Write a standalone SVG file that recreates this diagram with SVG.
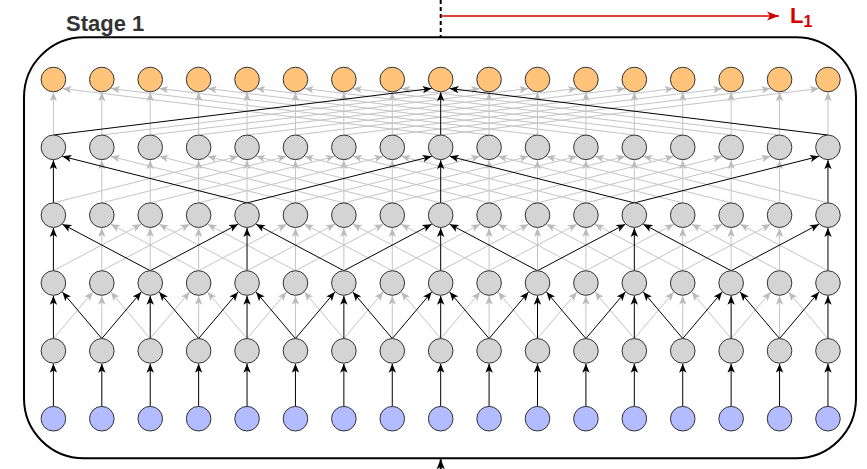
<svg xmlns="http://www.w3.org/2000/svg" width="867" height="469" viewBox="0 0 867 469">
<defs>
<style>
.g line{stroke:#c4c4c4;stroke-width:1;fill:none;marker-end:url(#ag)}
.k line{stroke:#000;stroke-width:1;fill:none;marker-end:url(#ak)}
.o circle{fill:#FFC47A;stroke:#333;stroke-width:1}
.m circle{fill:#D4D4D4;stroke:#333;stroke-width:1}
.b circle{fill:#B3BCFF;stroke:#333;stroke-width:1}
.lbl{font-family:"Liberation Sans",Arial,sans-serif;font-weight:bold}
</style>
<marker id="ak" markerUnits="userSpaceOnUse" markerWidth="9" markerHeight="8" viewBox="0 0 9 8" refX="9" refY="4" orient="auto"><path d="M0,0.3 L9,4 L0,7.7 L2.2,4 Z" fill="#000"/></marker>
<marker id="ag" markerUnits="userSpaceOnUse" markerWidth="9" markerHeight="8" viewBox="0 0 9 8" refX="9" refY="4" orient="auto"><path d="M0,0.3 L9,4 L0,7.7 L2.2,4 Z" fill="#bbbbbb"/></marker>
<marker id="ar" markerUnits="userSpaceOnUse" markerWidth="12" markerHeight="10" viewBox="0 0 12 10" refX="12" refY="5" orient="auto"><path d="M0,0.6 L12,5 L0,9.4 L3,5 Z" fill="#D40000"/></marker>
<marker id="ab" markerUnits="userSpaceOnUse" markerWidth="10" markerHeight="10" viewBox="0 0 10 10" refX="10" refY="5" orient="auto"><path d="M0,0.8 L10,5 L0,9.2 L2.5,5 Z" fill="#000"/></marker>
</defs>
<rect x="0" y="0" width="867" height="469" fill="#fff"/>

<g id="stage-box">
<rect x="24" y="37.3" width="832" height="421" rx="60" ry="60" fill="none" stroke="#000" stroke-width="2"/>
<text class="lbl" x="66" y="31" font-size="22" fill="#333">Stage 1</text>
</g>

<g id="connectors">
<g id="gray-edges" class="g">
<!-- row 0 targets, dilation 8 -->
<g transform="translate(53.4,79.5)"><line x1="0" y1="55.54" x2="0" y2="12.8"/><line x1="387.28" y1="55.54" x2="9" y2="9"/></g>
<g transform="translate(101.81,79.5)"><line x1="0" y1="55.54" x2="0" y2="12.8"/><line x1="387.28" y1="55.54" x2="9" y2="9"/></g>
<g transform="translate(150.22,79.5)"><line x1="0" y1="55.54" x2="0" y2="12.8"/><line x1="387.28" y1="55.54" x2="9" y2="9"/></g>
<g transform="translate(198.63,79.5)"><line x1="0" y1="55.54" x2="0" y2="12.8"/><line x1="387.28" y1="55.54" x2="9" y2="9"/></g>
<g transform="translate(247.04,79.5)"><line x1="0" y1="55.54" x2="0" y2="12.8"/><line x1="387.28" y1="55.54" x2="9" y2="9"/></g>
<g transform="translate(295.45,79.5)"><line x1="0" y1="55.54" x2="0" y2="12.8"/><line x1="387.28" y1="55.54" x2="9" y2="9"/></g>
<g transform="translate(343.86,79.5)"><line x1="0" y1="55.54" x2="0" y2="12.8"/><line x1="387.28" y1="55.54" x2="9" y2="9"/></g>
<g transform="translate(392.27,79.5)"><line x1="0" y1="55.54" x2="0" y2="12.8"/><line x1="387.28" y1="55.54" x2="9" y2="9"/></g>
<g transform="translate(489.09,79.5)"><line x1="-387.28" y1="55.54" x2="-9" y2="9"/><line x1="0" y1="55.54" x2="0" y2="12.8"/></g>
<g transform="translate(537.5,79.5)"><line x1="-387.28" y1="55.54" x2="-9" y2="9"/><line x1="0" y1="55.54" x2="0" y2="12.8"/></g>
<g transform="translate(585.91,79.5)"><line x1="-387.28" y1="55.54" x2="-9" y2="9"/><line x1="0" y1="55.54" x2="0" y2="12.8"/></g>
<g transform="translate(634.32,79.5)"><line x1="-387.28" y1="55.54" x2="-9" y2="9"/><line x1="0" y1="55.54" x2="0" y2="12.8"/></g>
<g transform="translate(682.73,79.5)"><line x1="-387.28" y1="55.54" x2="-9" y2="9"/><line x1="0" y1="55.54" x2="0" y2="12.8"/></g>
<g transform="translate(731.14,79.5)"><line x1="-387.28" y1="55.54" x2="-9" y2="9"/><line x1="0" y1="55.54" x2="0" y2="12.8"/></g>
<g transform="translate(779.55,79.5)"><line x1="-387.28" y1="55.54" x2="-9" y2="9"/><line x1="0" y1="55.54" x2="0" y2="12.8"/></g>
<g transform="translate(827.96,79.5)"><line x1="-387.28" y1="55.54" x2="-9" y2="9"/><line x1="0" y1="55.54" x2="0" y2="12.8"/></g>
<!-- row 1 targets, dilation 4 -->
<g transform="translate(101.81,147.34)"><line x1="0" y1="55.54" x2="0" y2="12.8"/><line x1="193.64" y1="55.54" x2="9" y2="9"/></g>
<g transform="translate(150.22,147.34)"><line x1="0" y1="55.54" x2="0" y2="12.8"/><line x1="193.64" y1="55.54" x2="9" y2="9"/></g>
<g transform="translate(198.63,147.34)"><line x1="0" y1="55.54" x2="0" y2="12.8"/><line x1="193.64" y1="55.54" x2="9" y2="9"/></g>
<g transform="translate(247.04,147.34)"><line x1="-193.64" y1="55.54" x2="-9" y2="9"/><line x1="0" y1="55.54" x2="0" y2="12.8"/><line x1="193.64" y1="55.54" x2="9" y2="9"/></g>
<g transform="translate(295.45,147.34)"><line x1="-193.64" y1="55.54" x2="-9" y2="9"/><line x1="0" y1="55.54" x2="0" y2="12.8"/><line x1="193.64" y1="55.54" x2="9" y2="9"/></g>
<g transform="translate(343.86,147.34)"><line x1="-193.64" y1="55.54" x2="-9" y2="9"/><line x1="0" y1="55.54" x2="0" y2="12.8"/><line x1="193.64" y1="55.54" x2="9" y2="9"/></g>
<g transform="translate(392.27,147.34)"><line x1="-193.64" y1="55.54" x2="-9" y2="9"/><line x1="0" y1="55.54" x2="0" y2="12.8"/><line x1="193.64" y1="55.54" x2="9" y2="9"/></g>
<g transform="translate(489.09,147.34)"><line x1="-193.64" y1="55.54" x2="-9" y2="9"/><line x1="0" y1="55.54" x2="0" y2="12.8"/><line x1="193.64" y1="55.54" x2="9" y2="9"/></g>
<g transform="translate(537.5,147.34)"><line x1="-193.64" y1="55.54" x2="-9" y2="9"/><line x1="0" y1="55.54" x2="0" y2="12.8"/><line x1="193.64" y1="55.54" x2="9" y2="9"/></g>
<g transform="translate(585.91,147.34)"><line x1="-193.64" y1="55.54" x2="-9" y2="9"/><line x1="0" y1="55.54" x2="0" y2="12.8"/><line x1="193.64" y1="55.54" x2="9" y2="9"/></g>
<g transform="translate(634.32,147.34)"><line x1="-193.64" y1="55.54" x2="-9" y2="9"/><line x1="0" y1="55.54" x2="0" y2="12.8"/><line x1="193.64" y1="55.54" x2="9" y2="9"/></g>
<g transform="translate(682.73,147.34)"><line x1="-193.64" y1="55.54" x2="-9" y2="9"/><line x1="0" y1="55.54" x2="0" y2="12.8"/></g>
<g transform="translate(731.14,147.34)"><line x1="-193.64" y1="55.54" x2="-9" y2="9"/><line x1="0" y1="55.54" x2="0" y2="12.8"/></g>
<g transform="translate(779.55,147.34)"><line x1="-193.64" y1="55.54" x2="-9" y2="9"/><line x1="0" y1="55.54" x2="0" y2="12.8"/></g>
<!-- row 2 targets, dilation 2 -->
<g transform="translate(101.81,215.18)"><line x1="0" y1="55.54" x2="0" y2="12.8"/><line x1="96.82" y1="55.54" x2="9" y2="9"/></g>
<g transform="translate(150.22,215.18)"><line x1="-96.82" y1="55.54" x2="-9" y2="9"/><line x1="0" y1="55.54" x2="0" y2="12.8"/><line x1="96.82" y1="55.54" x2="9" y2="9"/></g>
<g transform="translate(198.63,215.18)"><line x1="-96.82" y1="55.54" x2="-9" y2="9"/><line x1="0" y1="55.54" x2="0" y2="12.8"/><line x1="96.82" y1="55.54" x2="9" y2="9"/></g>
<g transform="translate(295.45,215.18)"><line x1="-96.82" y1="55.54" x2="-9" y2="9"/><line x1="0" y1="55.54" x2="0" y2="12.8"/><line x1="96.82" y1="55.54" x2="9" y2="9"/></g>
<g transform="translate(343.86,215.18)"><line x1="-96.82" y1="55.54" x2="-9" y2="9"/><line x1="0" y1="55.54" x2="0" y2="12.8"/><line x1="96.82" y1="55.54" x2="9" y2="9"/></g>
<g transform="translate(392.27,215.18)"><line x1="-96.82" y1="55.54" x2="-9" y2="9"/><line x1="0" y1="55.54" x2="0" y2="12.8"/><line x1="96.82" y1="55.54" x2="9" y2="9"/></g>
<g transform="translate(489.09,215.18)"><line x1="-96.82" y1="55.54" x2="-9" y2="9"/><line x1="0" y1="55.54" x2="0" y2="12.8"/><line x1="96.82" y1="55.54" x2="9" y2="9"/></g>
<g transform="translate(537.5,215.18)"><line x1="-96.82" y1="55.54" x2="-9" y2="9"/><line x1="0" y1="55.54" x2="0" y2="12.8"/><line x1="96.82" y1="55.54" x2="9" y2="9"/></g>
<g transform="translate(585.91,215.18)"><line x1="-96.82" y1="55.54" x2="-9" y2="9"/><line x1="0" y1="55.54" x2="0" y2="12.8"/><line x1="96.82" y1="55.54" x2="9" y2="9"/></g>
<g transform="translate(682.73,215.18)"><line x1="-96.82" y1="55.54" x2="-9" y2="9"/><line x1="0" y1="55.54" x2="0" y2="12.8"/><line x1="96.82" y1="55.54" x2="9" y2="9"/></g>
<g transform="translate(731.14,215.18)"><line x1="-96.82" y1="55.54" x2="-9" y2="9"/><line x1="0" y1="55.54" x2="0" y2="12.8"/><line x1="96.82" y1="55.54" x2="9" y2="9"/></g>
<g transform="translate(779.55,215.18)"><line x1="-96.82" y1="55.54" x2="-9" y2="9"/><line x1="0" y1="55.54" x2="0" y2="12.8"/></g>
<!-- row 3 targets, dilation 1 -->
<g transform="translate(101.81,283.02)"><line x1="-48.41" y1="55.54" x2="-9" y2="9"/><line x1="0" y1="55.54" x2="0" y2="12.8"/><line x1="48.41" y1="55.54" x2="9" y2="9"/></g>
<g transform="translate(198.63,283.02)"><line x1="-48.41" y1="55.54" x2="-9" y2="9"/><line x1="0" y1="55.54" x2="0" y2="12.8"/><line x1="48.41" y1="55.54" x2="9" y2="9"/></g>
<g transform="translate(295.45,283.02)"><line x1="-48.41" y1="55.54" x2="-9" y2="9"/><line x1="0" y1="55.54" x2="0" y2="12.8"/><line x1="48.41" y1="55.54" x2="9" y2="9"/></g>
<g transform="translate(392.27,283.02)"><line x1="-48.41" y1="55.54" x2="-9" y2="9"/><line x1="0" y1="55.54" x2="0" y2="12.8"/><line x1="48.41" y1="55.54" x2="9" y2="9"/></g>
<g transform="translate(489.09,283.02)"><line x1="-48.41" y1="55.54" x2="-9" y2="9"/><line x1="0" y1="55.54" x2="0" y2="12.8"/><line x1="48.41" y1="55.54" x2="9" y2="9"/></g>
<g transform="translate(585.91,283.02)"><line x1="-48.41" y1="55.54" x2="-9" y2="9"/><line x1="0" y1="55.54" x2="0" y2="12.8"/><line x1="48.41" y1="55.54" x2="9" y2="9"/></g>
<g transform="translate(682.73,283.02)"><line x1="-48.41" y1="55.54" x2="-9" y2="9"/><line x1="0" y1="55.54" x2="0" y2="12.8"/><line x1="48.41" y1="55.54" x2="9" y2="9"/></g>
<g transform="translate(779.55,283.02)"><line x1="-48.41" y1="55.54" x2="-9" y2="9"/><line x1="0" y1="55.54" x2="0" y2="12.8"/><line x1="48.41" y1="55.54" x2="9" y2="9"/></g>
</g>

<g id="black-edges" class="k">
<!-- row 0 -->
<g transform="translate(440.68,79.5)"><line x1="-387.28" y1="55.54" x2="-9" y2="9"/><line x1="0" y1="55.54" x2="0" y2="12.8"/><line x1="387.28" y1="55.54" x2="9" y2="9"/></g>
<!-- row 1 -->
<g transform="translate(53.4,147.34)"><line x1="0" y1="55.54" x2="0" y2="12.8"/><line x1="193.64" y1="55.54" x2="9" y2="9"/></g>
<g transform="translate(440.68,147.34)"><line x1="-193.64" y1="55.54" x2="-9" y2="9"/><line x1="0" y1="55.54" x2="0" y2="12.8"/><line x1="193.64" y1="55.54" x2="9" y2="9"/></g>
<g transform="translate(827.96,147.34)"><line x1="-193.64" y1="55.54" x2="-9" y2="9"/><line x1="0" y1="55.54" x2="0" y2="12.8"/></g>
<!-- row 2 -->
<g transform="translate(53.4,215.18)"><line x1="0" y1="55.54" x2="0" y2="12.8"/><line x1="96.82" y1="55.54" x2="9" y2="9"/></g>
<g transform="translate(247.04,215.18)"><line x1="-96.82" y1="55.54" x2="-9" y2="9"/><line x1="0" y1="55.54" x2="0" y2="12.8"/><line x1="96.82" y1="55.54" x2="9" y2="9"/></g>
<g transform="translate(440.68,215.18)"><line x1="-96.82" y1="55.54" x2="-9" y2="9"/><line x1="0" y1="55.54" x2="0" y2="12.8"/><line x1="96.82" y1="55.54" x2="9" y2="9"/></g>
<g transform="translate(634.32,215.18)"><line x1="-96.82" y1="55.54" x2="-9" y2="9"/><line x1="0" y1="55.54" x2="0" y2="12.8"/><line x1="96.82" y1="55.54" x2="9" y2="9"/></g>
<g transform="translate(827.96,215.18)"><line x1="-96.82" y1="55.54" x2="-9" y2="9"/><line x1="0" y1="55.54" x2="0" y2="12.8"/></g>
<!-- row 3 -->
<g transform="translate(53.4,283.02)"><line x1="0" y1="55.54" x2="0" y2="12.8"/><line x1="48.41" y1="55.54" x2="9" y2="9"/></g>
<g transform="translate(150.22,283.02)"><line x1="-48.41" y1="55.54" x2="-9" y2="9"/><line x1="0" y1="55.54" x2="0" y2="12.8"/><line x1="48.41" y1="55.54" x2="9" y2="9"/></g>
<g transform="translate(247.04,283.02)"><line x1="-48.41" y1="55.54" x2="-9" y2="9"/><line x1="0" y1="55.54" x2="0" y2="12.8"/><line x1="48.41" y1="55.54" x2="9" y2="9"/></g>
<g transform="translate(343.86,283.02)"><line x1="-48.41" y1="55.54" x2="-9" y2="9"/><line x1="0" y1="55.54" x2="0" y2="12.8"/><line x1="48.41" y1="55.54" x2="9" y2="9"/></g>
<g transform="translate(440.68,283.02)"><line x1="-48.41" y1="55.54" x2="-9" y2="9"/><line x1="0" y1="55.54" x2="0" y2="12.8"/><line x1="48.41" y1="55.54" x2="9" y2="9"/></g>
<g transform="translate(537.5,283.02)"><line x1="-48.41" y1="55.54" x2="-9" y2="9"/><line x1="0" y1="55.54" x2="0" y2="12.8"/><line x1="48.41" y1="55.54" x2="9" y2="9"/></g>
<g transform="translate(634.32,283.02)"><line x1="-48.41" y1="55.54" x2="-9" y2="9"/><line x1="0" y1="55.54" x2="0" y2="12.8"/><line x1="48.41" y1="55.54" x2="9" y2="9"/></g>
<g transform="translate(731.14,283.02)"><line x1="-48.41" y1="55.54" x2="-9" y2="9"/><line x1="0" y1="55.54" x2="0" y2="12.8"/><line x1="48.41" y1="55.54" x2="9" y2="9"/></g>
<g transform="translate(827.96,283.02)"><line x1="-48.41" y1="55.54" x2="-9" y2="9"/><line x1="0" y1="55.54" x2="0" y2="12.8"/></g>
<!-- row 4: input to first hidden -->
<g transform="translate(0,350.86)">
<line x1="53.4" y1="55.54" x2="53.4" y2="12.8"/>
<line x1="101.81" y1="55.54" x2="101.81" y2="12.8"/>
<line x1="150.22" y1="55.54" x2="150.22" y2="12.8"/>
<line x1="198.63" y1="55.54" x2="198.63" y2="12.8"/>
<line x1="247.04" y1="55.54" x2="247.04" y2="12.8"/>
<line x1="295.45" y1="55.54" x2="295.45" y2="12.8"/>
<line x1="343.86" y1="55.54" x2="343.86" y2="12.8"/>
<line x1="392.27" y1="55.54" x2="392.27" y2="12.8"/>
<line x1="440.68" y1="55.54" x2="440.68" y2="12.8"/>
<line x1="489.09" y1="55.54" x2="489.09" y2="12.8"/>
<line x1="537.5" y1="55.54" x2="537.5" y2="12.8"/>
<line x1="585.91" y1="55.54" x2="585.91" y2="12.8"/>
<line x1="634.32" y1="55.54" x2="634.32" y2="12.8"/>
<line x1="682.73" y1="55.54" x2="682.73" y2="12.8"/>
<line x1="731.14" y1="55.54" x2="731.14" y2="12.8"/>
<line x1="779.55" y1="55.54" x2="779.55" y2="12.8"/>
<line x1="827.96" y1="55.54" x2="827.96" y2="12.8"/>
</g>
</g>

<g id="stage-links">
<line x1="440.7" y1="0" x2="440.7" y2="37.3" stroke="#000" stroke-width="2" stroke-dasharray="4 3"/>
<line x1="440.7" y1="16" x2="779" y2="16" stroke="#D40000" stroke-width="1.5" marker-end="url(#ar)"/>
<line x1="440.7" y1="475" x2="440.7" y2="459.3" stroke="#000" stroke-width="2" marker-end="url(#ab)"/>
</g>
</g>

<text class="lbl" x="790" y="23.3" font-size="22" fill="#D40000">L<tspan font-size="16" dy="3.4">1</tspan></text>

<g id="nodes">
<g id="out-0" class="o"><circle cx="53.4" cy="79.5" r="12.3"/></g>
<g id="out-1" class="o"><circle cx="101.81" cy="79.5" r="12.3"/></g>
<g id="out-2" class="o"><circle cx="150.22" cy="79.5" r="12.3"/></g>
<g id="out-3" class="o"><circle cx="198.63" cy="79.5" r="12.3"/></g>
<g id="out-4" class="o"><circle cx="247.04" cy="79.5" r="12.3"/></g>
<g id="out-5" class="o"><circle cx="295.45" cy="79.5" r="12.3"/></g>
<g id="out-6" class="o"><circle cx="343.86" cy="79.5" r="12.3"/></g>
<g id="out-7" class="o"><circle cx="392.27" cy="79.5" r="12.3"/></g>
<g id="out-8" class="o"><circle cx="440.68" cy="79.5" r="12.3"/></g>
<g id="out-9" class="o"><circle cx="489.09" cy="79.5" r="12.3"/></g>
<g id="out-10" class="o"><circle cx="537.5" cy="79.5" r="12.3"/></g>
<g id="out-11" class="o"><circle cx="585.91" cy="79.5" r="12.3"/></g>
<g id="out-12" class="o"><circle cx="634.32" cy="79.5" r="12.3"/></g>
<g id="out-13" class="o"><circle cx="682.73" cy="79.5" r="12.3"/></g>
<g id="out-14" class="o"><circle cx="731.14" cy="79.5" r="12.3"/></g>
<g id="out-15" class="o"><circle cx="779.55" cy="79.5" r="12.3"/></g>
<g id="out-16" class="o"><circle cx="827.96" cy="79.5" r="12.3"/></g>

<g id="h4-0" class="m"><circle cx="53.4" cy="147.34" r="12.3"/></g>
<g id="h4-1" class="m"><circle cx="101.81" cy="147.34" r="12.3"/></g>
<g id="h4-2" class="m"><circle cx="150.22" cy="147.34" r="12.3"/></g>
<g id="h4-3" class="m"><circle cx="198.63" cy="147.34" r="12.3"/></g>
<g id="h4-4" class="m"><circle cx="247.04" cy="147.34" r="12.3"/></g>
<g id="h4-5" class="m"><circle cx="295.45" cy="147.34" r="12.3"/></g>
<g id="h4-6" class="m"><circle cx="343.86" cy="147.34" r="12.3"/></g>
<g id="h4-7" class="m"><circle cx="392.27" cy="147.34" r="12.3"/></g>
<g id="h4-8" class="m"><circle cx="440.68" cy="147.34" r="12.3"/></g>
<g id="h4-9" class="m"><circle cx="489.09" cy="147.34" r="12.3"/></g>
<g id="h4-10" class="m"><circle cx="537.5" cy="147.34" r="12.3"/></g>
<g id="h4-11" class="m"><circle cx="585.91" cy="147.34" r="12.3"/></g>
<g id="h4-12" class="m"><circle cx="634.32" cy="147.34" r="12.3"/></g>
<g id="h4-13" class="m"><circle cx="682.73" cy="147.34" r="12.3"/></g>
<g id="h4-14" class="m"><circle cx="731.14" cy="147.34" r="12.3"/></g>
<g id="h4-15" class="m"><circle cx="779.55" cy="147.34" r="12.3"/></g>
<g id="h4-16" class="m"><circle cx="827.96" cy="147.34" r="12.3"/></g>

<g id="h3-0" class="m"><circle cx="53.4" cy="215.18" r="12.3"/></g>
<g id="h3-1" class="m"><circle cx="101.81" cy="215.18" r="12.3"/></g>
<g id="h3-2" class="m"><circle cx="150.22" cy="215.18" r="12.3"/></g>
<g id="h3-3" class="m"><circle cx="198.63" cy="215.18" r="12.3"/></g>
<g id="h3-4" class="m"><circle cx="247.04" cy="215.18" r="12.3"/></g>
<g id="h3-5" class="m"><circle cx="295.45" cy="215.18" r="12.3"/></g>
<g id="h3-6" class="m"><circle cx="343.86" cy="215.18" r="12.3"/></g>
<g id="h3-7" class="m"><circle cx="392.27" cy="215.18" r="12.3"/></g>
<g id="h3-8" class="m"><circle cx="440.68" cy="215.18" r="12.3"/></g>
<g id="h3-9" class="m"><circle cx="489.09" cy="215.18" r="12.3"/></g>
<g id="h3-10" class="m"><circle cx="537.5" cy="215.18" r="12.3"/></g>
<g id="h3-11" class="m"><circle cx="585.91" cy="215.18" r="12.3"/></g>
<g id="h3-12" class="m"><circle cx="634.32" cy="215.18" r="12.3"/></g>
<g id="h3-13" class="m"><circle cx="682.73" cy="215.18" r="12.3"/></g>
<g id="h3-14" class="m"><circle cx="731.14" cy="215.18" r="12.3"/></g>
<g id="h3-15" class="m"><circle cx="779.55" cy="215.18" r="12.3"/></g>
<g id="h3-16" class="m"><circle cx="827.96" cy="215.18" r="12.3"/></g>

<g id="h2-0" class="m"><circle cx="53.4" cy="283.02" r="12.3"/></g>
<g id="h2-1" class="m"><circle cx="101.81" cy="283.02" r="12.3"/></g>
<g id="h2-2" class="m"><circle cx="150.22" cy="283.02" r="12.3"/></g>
<g id="h2-3" class="m"><circle cx="198.63" cy="283.02" r="12.3"/></g>
<g id="h2-4" class="m"><circle cx="247.04" cy="283.02" r="12.3"/></g>
<g id="h2-5" class="m"><circle cx="295.45" cy="283.02" r="12.3"/></g>
<g id="h2-6" class="m"><circle cx="343.86" cy="283.02" r="12.3"/></g>
<g id="h2-7" class="m"><circle cx="392.27" cy="283.02" r="12.3"/></g>
<g id="h2-8" class="m"><circle cx="440.68" cy="283.02" r="12.3"/></g>
<g id="h2-9" class="m"><circle cx="489.09" cy="283.02" r="12.3"/></g>
<g id="h2-10" class="m"><circle cx="537.5" cy="283.02" r="12.3"/></g>
<g id="h2-11" class="m"><circle cx="585.91" cy="283.02" r="12.3"/></g>
<g id="h2-12" class="m"><circle cx="634.32" cy="283.02" r="12.3"/></g>
<g id="h2-13" class="m"><circle cx="682.73" cy="283.02" r="12.3"/></g>
<g id="h2-14" class="m"><circle cx="731.14" cy="283.02" r="12.3"/></g>
<g id="h2-15" class="m"><circle cx="779.55" cy="283.02" r="12.3"/></g>
<g id="h2-16" class="m"><circle cx="827.96" cy="283.02" r="12.3"/></g>

<g id="h1-0" class="m"><circle cx="53.4" cy="350.86" r="12.3"/></g>
<g id="h1-1" class="m"><circle cx="101.81" cy="350.86" r="12.3"/></g>
<g id="h1-2" class="m"><circle cx="150.22" cy="350.86" r="12.3"/></g>
<g id="h1-3" class="m"><circle cx="198.63" cy="350.86" r="12.3"/></g>
<g id="h1-4" class="m"><circle cx="247.04" cy="350.86" r="12.3"/></g>
<g id="h1-5" class="m"><circle cx="295.45" cy="350.86" r="12.3"/></g>
<g id="h1-6" class="m"><circle cx="343.86" cy="350.86" r="12.3"/></g>
<g id="h1-7" class="m"><circle cx="392.27" cy="350.86" r="12.3"/></g>
<g id="h1-8" class="m"><circle cx="440.68" cy="350.86" r="12.3"/></g>
<g id="h1-9" class="m"><circle cx="489.09" cy="350.86" r="12.3"/></g>
<g id="h1-10" class="m"><circle cx="537.5" cy="350.86" r="12.3"/></g>
<g id="h1-11" class="m"><circle cx="585.91" cy="350.86" r="12.3"/></g>
<g id="h1-12" class="m"><circle cx="634.32" cy="350.86" r="12.3"/></g>
<g id="h1-13" class="m"><circle cx="682.73" cy="350.86" r="12.3"/></g>
<g id="h1-14" class="m"><circle cx="731.14" cy="350.86" r="12.3"/></g>
<g id="h1-15" class="m"><circle cx="779.55" cy="350.86" r="12.3"/></g>
<g id="h1-16" class="m"><circle cx="827.96" cy="350.86" r="12.3"/></g>

<g id="in-0" class="b"><circle cx="53.4" cy="418.7" r="12.3"/></g>
<g id="in-1" class="b"><circle cx="101.81" cy="418.7" r="12.3"/></g>
<g id="in-2" class="b"><circle cx="150.22" cy="418.7" r="12.3"/></g>
<g id="in-3" class="b"><circle cx="198.63" cy="418.7" r="12.3"/></g>
<g id="in-4" class="b"><circle cx="247.04" cy="418.7" r="12.3"/></g>
<g id="in-5" class="b"><circle cx="295.45" cy="418.7" r="12.3"/></g>
<g id="in-6" class="b"><circle cx="343.86" cy="418.7" r="12.3"/></g>
<g id="in-7" class="b"><circle cx="392.27" cy="418.7" r="12.3"/></g>
<g id="in-8" class="b"><circle cx="440.68" cy="418.7" r="12.3"/></g>
<g id="in-9" class="b"><circle cx="489.09" cy="418.7" r="12.3"/></g>
<g id="in-10" class="b"><circle cx="537.5" cy="418.7" r="12.3"/></g>
<g id="in-11" class="b"><circle cx="585.91" cy="418.7" r="12.3"/></g>
<g id="in-12" class="b"><circle cx="634.32" cy="418.7" r="12.3"/></g>
<g id="in-13" class="b"><circle cx="682.73" cy="418.7" r="12.3"/></g>
<g id="in-14" class="b"><circle cx="731.14" cy="418.7" r="12.3"/></g>
<g id="in-15" class="b"><circle cx="779.55" cy="418.7" r="12.3"/></g>
<g id="in-16" class="b"><circle cx="827.96" cy="418.7" r="12.3"/></g>
</g>
</svg>
